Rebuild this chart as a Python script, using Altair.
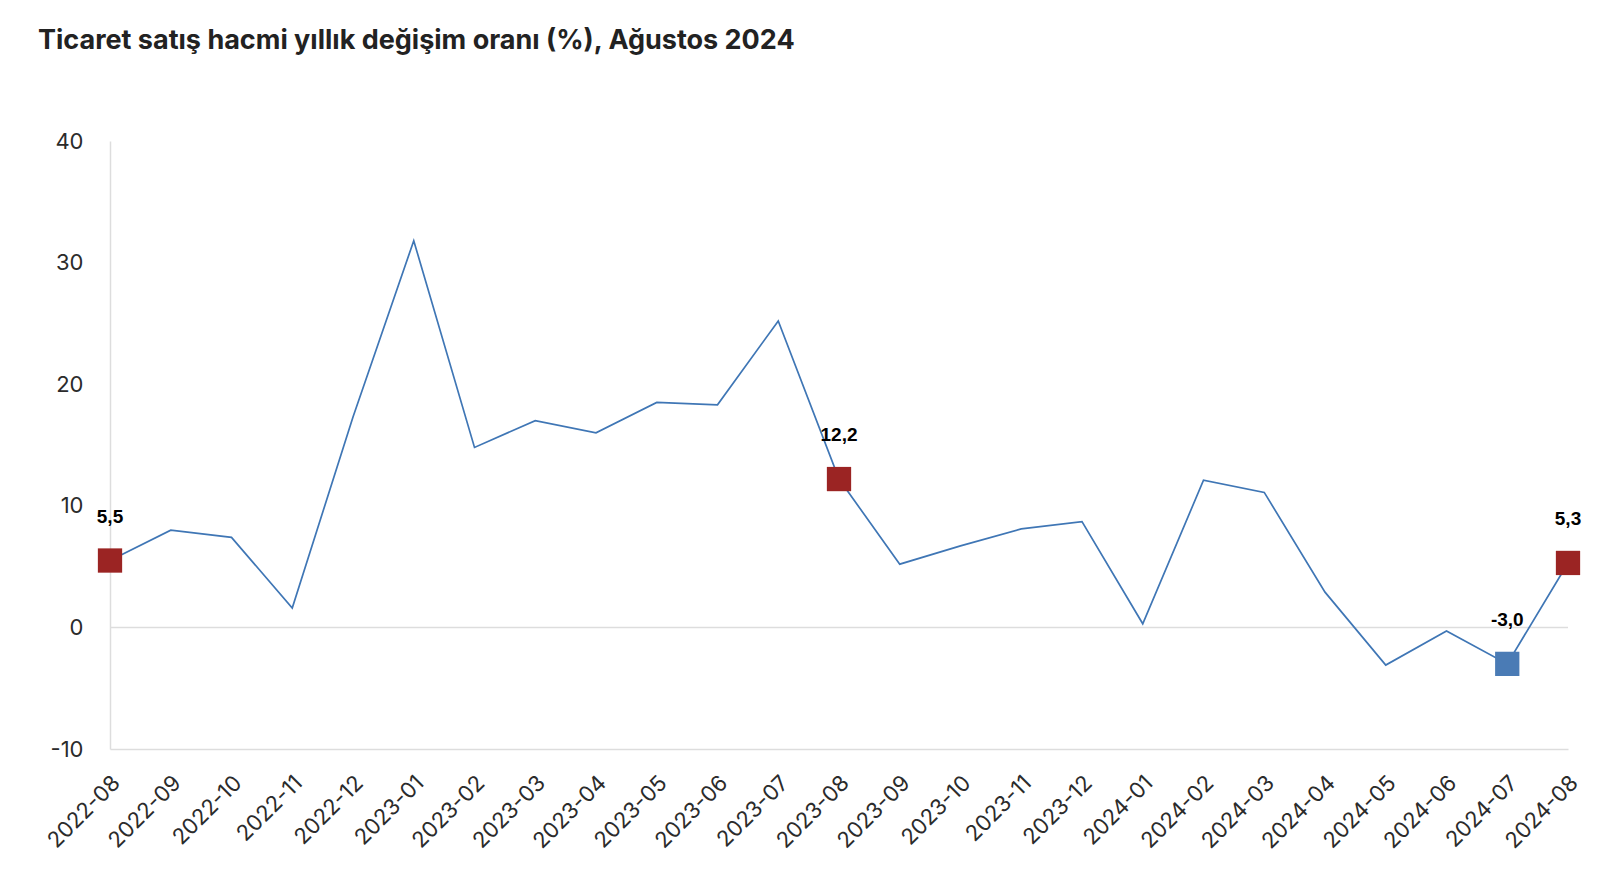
import altair as alt
import pandas as pd

months = ["2022-08", "2022-09", "2022-10", "2022-11", "2022-12", "2023-01", "2023-02",
          "2023-03", "2023-04", "2023-05", "2023-06", "2023-07", "2023-08", "2023-09",
          "2023-10", "2023-11", "2023-12", "2024-01", "2024-02", "2024-03", "2024-04",
          "2024-05", "2024-06", "2024-07", "2024-08"]
values = [5.5, 8.0, 7.4, 1.6, 17.3, 31.8, 14.8, 17.0, 16.0, 18.5, 18.3, 25.2, 12.2, 5.2,
          6.7, 8.1, 8.7, 0.3, 12.1, 11.1, 2.9, -3.1, -0.3, -3.0, 5.3]

marked_months = ["2022-08", "2023-08", "2024-07", "2024-08"]
marked_values = [5.5, 12.2, -3.0, 5.3]
marked_kind = ["high", "high", "low", "high"]

y_ticks = [-10, 0, 10, 20, 30, 40]

df = pd.DataFrame({"month": months, "value": values})
dm = pd.DataFrame({"month": marked_months, "value": marked_values, "kind": marked_kind})
dz = pd.DataFrame({"zero": [0]})

x_enc = alt.X("month:N", sort=months,
              scale=alt.Scale(type="point", padding=0),
              axis=alt.Axis(title=None, labelAngle=-45, labelAlign="right", labelBaseline="middle",
                            labelFont="Inter", labelFontSize=22, labelColor="#2b2b2b",
                            labelPadding=30, labelOffset=6, ticks=False, grid=False,
                            domain=True, domainColor="#dddddd", domainWidth=1.5))
y_scale = alt.Scale(domain=[-10, 40], nice=False, zero=False)
y_enc = alt.Y("value:Q", scale=y_scale,
              axis=alt.Axis(title=None, values=y_ticks, labelFont="Inter", labelFontSize=22,
                            labelColor="#2b2b2b", labelPadding=27, ticks=False, grid=False,
                            labelExpr="replace(datum.label, '\u2212', '-')",
                            domain=True, domainColor="#dddddd", domainWidth=1.5))

zero_rule = alt.Chart(dz).mark_rule(color="#dddddd", strokeWidth=1.5).encode(
    y=alt.Y("zero:Q", scale=y_scale))

line = alt.Chart(df).mark_line(color="#3f76b5", strokeWidth=1.7).encode(x=x_enc, y=y_enc)

points = alt.Chart(dm).mark_square(size=590, opacity=1, strokeWidth=0).encode(
    x=alt.X("month:N", sort=months), y=alt.Y("value:Q", scale=y_scale),
    color=alt.Color("kind:N", scale=alt.Scale(domain=["high", "low"], range=["#9b2423", "#4a7bb5"]),
                    legend=None))

labels = alt.Chart(dm).transform_calculate(
    lab="replace(replace(format(datum.value, '.1f'), '.', ','), '\u2212', '-')"
).mark_text(font="Liberation Sans", fontWeight="bold", fontSize=19, color="#000",
            baseline="middle", align="center", dy=-44).encode(
    x=alt.X("month:N", sort=months), y=alt.Y("value:Q", scale=y_scale), text="lab:N")

chart = alt.layer(zero_rule, line, points, labels).properties(
    width=1458, height=608,
    background="white",
    autosize=alt.AutoSizeParams(type="none"),
    padding={"left": 110, "top": 141, "right": 42, "bottom": 131},
    title=alt.TitleParams("Ticaret satış hacmi yıllık değişim oranı (%), Ağustos 2024",
                          anchor="start", frame="group", dx=-72, offset=75, font="Inter",
                          fontSize=27, fontWeight="bold", color="#222222"),
).configure_view(stroke=None)

chart.save("out.html", embed_options={"renderer": "svg", "actions": False})
